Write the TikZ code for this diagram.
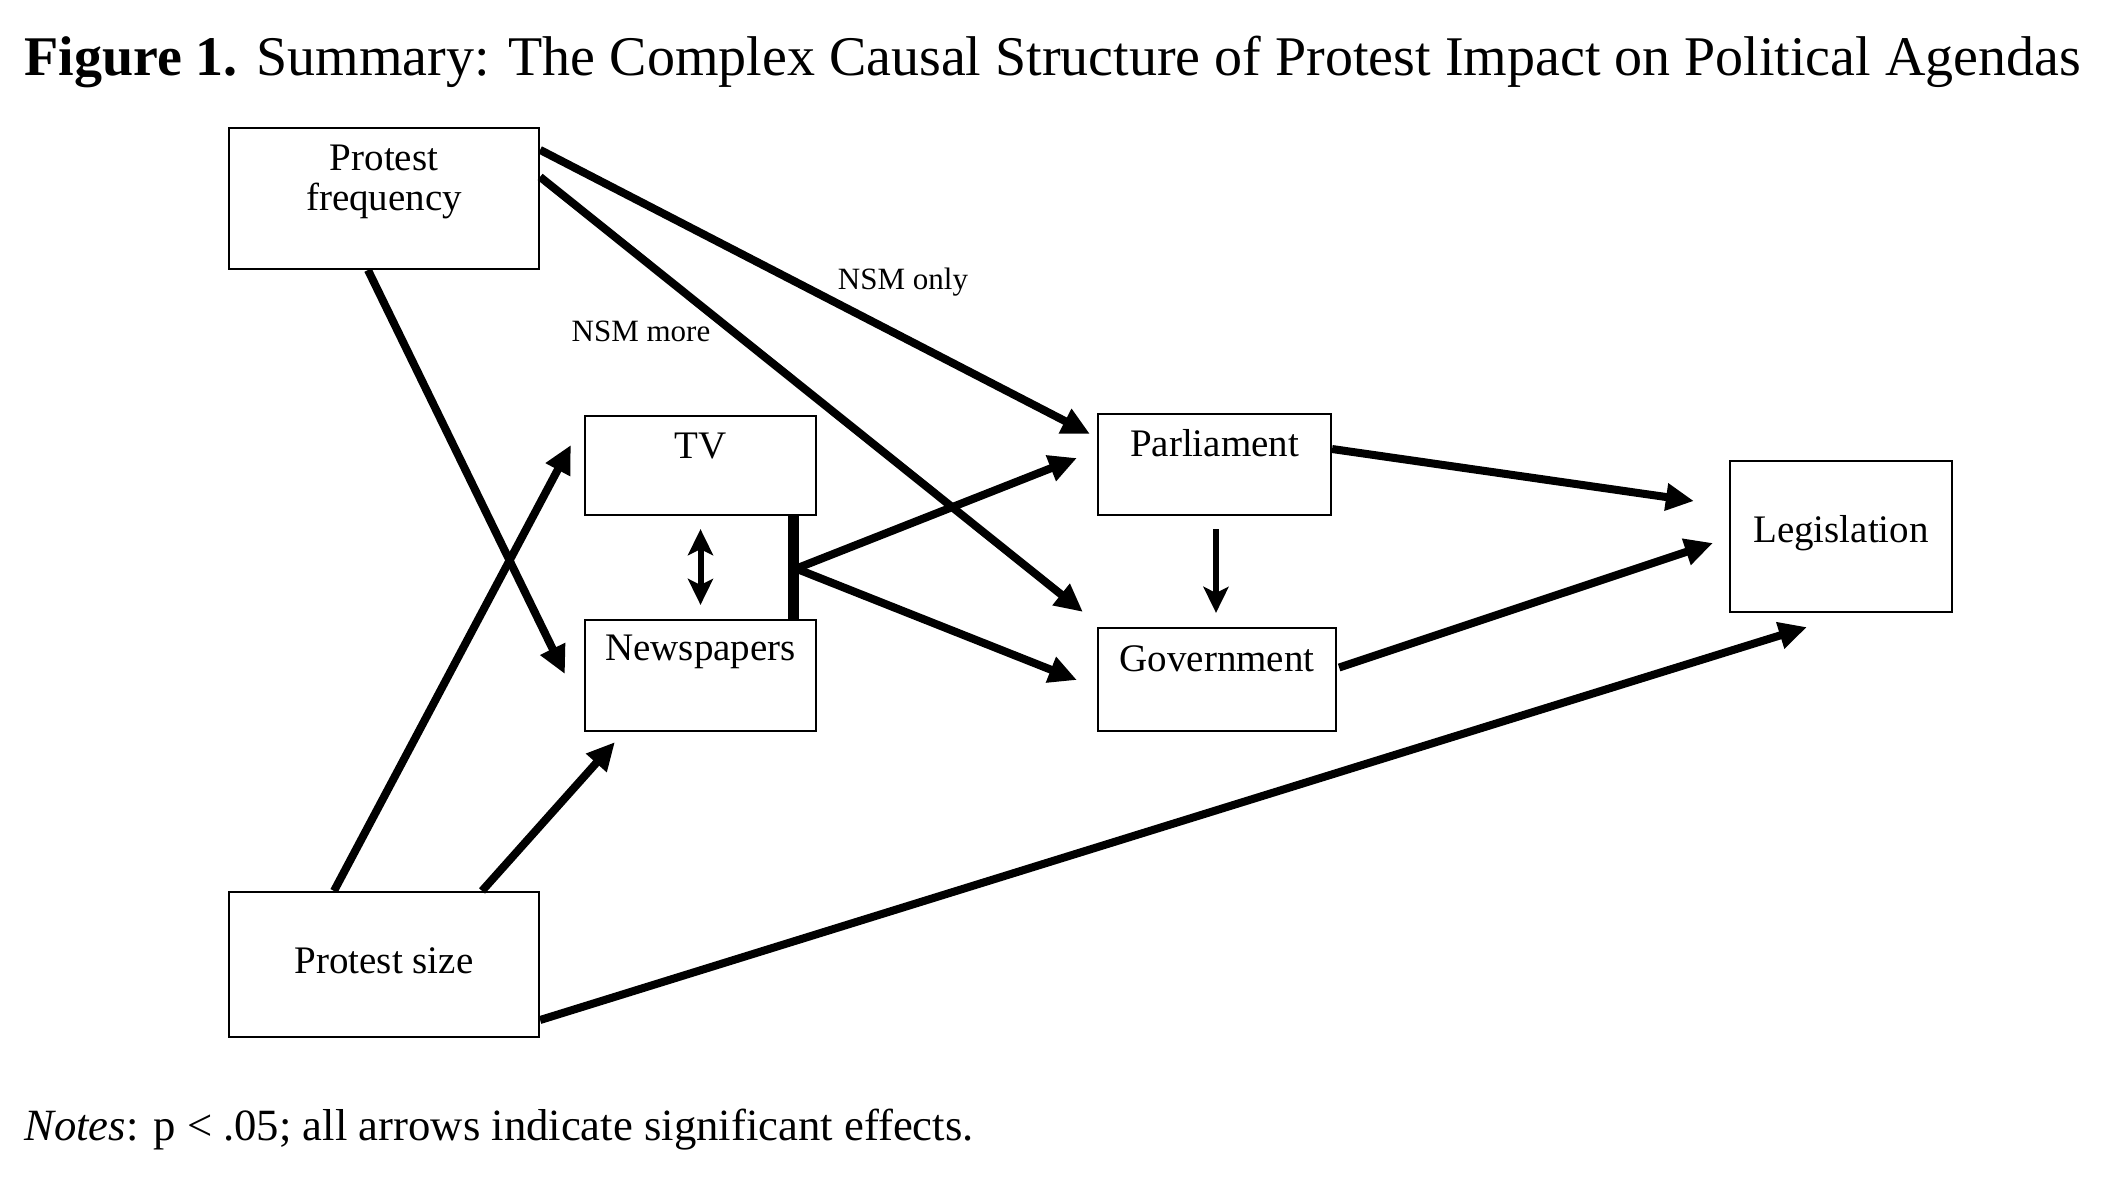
\documentclass[tikz,border=0pt]{standalone}
\usepackage{fontspec}
\setmainfont{Liberation Serif}
\usetikzlibrary{arrows.meta,calc}
\begin{document}
\begin{tikzpicture}[x=0.5pt,y=-0.5pt,
  box/.style={draw=black, line width=1.1pt, inner sep=0pt, align=center, font=\fontsize{19.5}{20}\selectfont},
  fat/.style={line width=4pt, -{Triangle[length=14pt,width=13pt]}},
  slim/.style={line width=3pt, -{Stealth[length=13pt,width=12.5pt,inset=3pt]}},
  both/.style={line width=3pt, {Stealth[length=13pt,width=12.5pt,inset=3pt]}-{Stealth[length=13pt,width=12.5pt,inset=3pt]}},
  lbl/.style={font=\fontsize{15.5}{18}\selectfont, inner sep=0pt},
]
\fill[white] (0,0) rectangle (2112,1184);
\useasboundingbox (0,0) rectangle (2112,1184);

\node[anchor=base west, inner sep=0pt, font=\fontsize{28}{32}\selectfont] (title) at (24,75)
  {\textbf{Figure 1.} Summary: The Complex Causal Structure of Protest Impact on Political Agendas};
\node[anchor=base west, inner sep=0pt, font=\fontsize{22.35}{26}\selectfont] (notes) at (24,1140)
  {\textit{Notes}: p < .05; all arrows indicate significant effects.};

\node[box, minimum width=155pt, text height=21pt, text depth=49.5pt] (pf) at (384,198.5)
  {\begin{tabular}[t]{@{}c@{}}Protest\\frequency\end{tabular}};
\node[box, minimum width=115.5pt, text height=21pt, text depth=28.5pt] (tv) at (700.5,465.5) {TV};
\node[box, minimum width=115.5pt, text height=20pt, text depth=35.5pt] (np) at (700.5,675.5) {Newspapers};
\node[box, minimum width=116.5pt, text height=21pt, text depth=29.5pt] (par) at (1214.5,464.5) {Parliament};
\node[box, minimum width=119pt, text height=21.5pt, text depth=30pt] (gov) at (1217,679.5) {Government};
\node[box, minimum width=111pt, text height=40.5pt, text depth=35pt] (leg) at (1841,536.5) {Legislation};
\node[box, minimum width=155pt, text height=40.5pt, text depth=32pt] (ps) at (384,964.5) {Protest size};

\node[lbl] (nsmonly) at (903,282) {NSM only};
\node[lbl] (nsmmore) at (641,331) {NSM more};

\draw[fat] ($(pf.north east)+(0,23)$) -- ($(par.north west)+(-7,21)$);
\draw[fat] ($(pf.north east)+(0,50)$) -- ($(gov.north west)+(-14,-15)$);
\draw[fat] ($(pf.south)+(-16,0)$) -- ($(np.west)+(-19,-1.5)$);
\draw[fat] ($(ps.north)+(-50,0)$) -- ($(tv.west)+(-13,-20.5)$);
\draw[fat] ($(ps.north)+(98,0)$) -- ($(np.south west)+(31,10)$);
\draw[fat] ($(ps.east)+(0,55.5)$) -- ($(leg.south west)+(78,14)$);

\draw[both] ($(tv.south)+(0,13)$) -- ($(np.north)+(0,-14)$);
\draw[line width=5.5pt] ($(tv.south east)+(-24,0)$) coordinate (bartop) -- ($(np.north east)+(-24,0)$) coordinate (barbot);
\coordinate (hub) at ($(bartop)+(3,52.5)$);
\draw[fat] (hub) -- ($(par.west)+(-20,-6.5)$);
\draw[fat] (hub) -- ($(gov.west)+(-20,0.5)$);

\draw[slim] ($(par.south)+(1.5,13)$) -- ($(gov.north)+(-1,-14)$);
\draw[fat] ($(par.east)+(0,-15.5)$) -- ($(leg.west)+(-35,-35.5)$);
\draw[fat] ($(gov.east)+(2,-12)$) -- ($(leg.west)+(-16,6.5)$);
\end{tikzpicture}
\end{document}
